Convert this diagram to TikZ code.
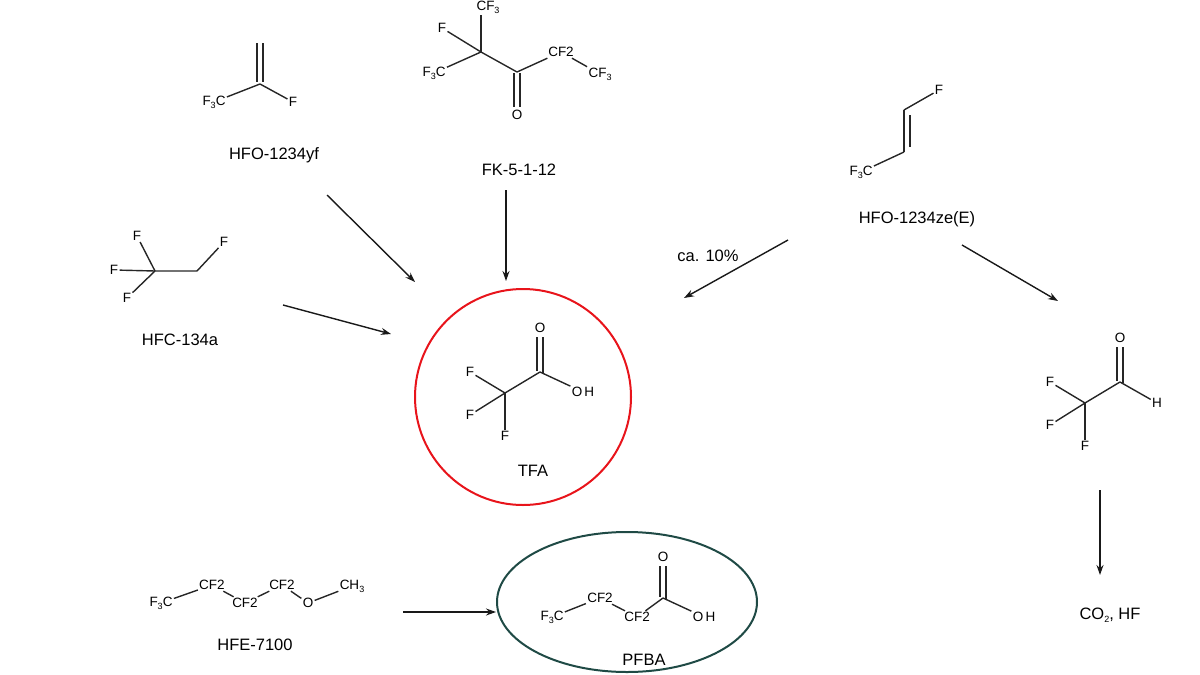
\documentclass[tikz,border=0pt]{standalone}
\usepackage{fontspec}
\setmainfont{Liberation Sans}
\usetikzlibrary{arrows.meta,shapes.geometric}
\newcommand\sbs[1]{\raisebox{-0.4ex}{\fontsize{9}{9}\selectfont #1}}
\newcommand\atomfont{\fontsize{13.5}{15}\selectfont}
\newcommand\labfont{\fontsize{16.5}{19}\selectfont}
\definecolor{tfared}{HTML}{E8141B}
\definecolor{pfbateal}{HTML}{1F4A45}
\begin{document}
\begin{tikzpicture}[x=1pt,y=-1pt,
  atom/.style={font=\atomfont, inner sep=1.2pt},
  lab/.style={font=\labfont, inner sep=1pt},
  bond/.style={line width=1.4pt, black!85},
  arr/.style={line width=1.4pt, black!90, -{Stealth[length=10pt,width=7pt]}}]
\useasboundingbox (0,0) rectangle (1200,675);

% ---------- HFO-1234yf ----------
\coordinate (yfc) at (260,84);
\node[atom] (yfcf3) at (214,102) {F\sbs{3}C};
\node[atom] (yff) at (293,102) {F};
\draw[bond] (257,43) -- (257,82);
\draw[bond] (263,43) -- (263,82);
\draw[bond] (yfc) -- (yfcf3);
\draw[bond] (yfc) -- (yff);
\node[lab] (yflab) at (274,155) {HFO-1234yf};

% ---------- FK-5-1-12 ----------
\coordinate (fkq) at (481,52);
\coordinate (fkk) at (517,72);
\node[atom] (fktop) at (488,7) {CF\sbs{3}};
\node[atom] (fkf) at (442,28) {F};
\node[atom] (fkcf3l) at (434,73) {F\sbs{3}C};
\node[atom] (fko) at (517,115) {O};
\node[atom] (fkcf2) at (561,52) {CF2};
\node[atom] (fkcf3r) at (600,74) {CF\sbs{3}};
\draw[bond] (fkq) -- (fkq |- fktop.south);
\draw[bond] (fkq) -- (fkf);
\draw[bond] (fkq) -- (fkcf3l);
\draw[bond] (fkq) -- (fkk);
\draw[bond] (514,73) -- (514,107);
\draw[bond] (520,73) -- (520,107);
\draw[bond] (fkk) -- (fkcf2);
\draw[bond] (fkcf2) -- (fkcf3r);
\node[lab] (fklab) at (519,170) {FK-5-1-12};

% ---------- HFO-1234ze(E) ----------
\coordinate (zet) at (904,110);
\coordinate (zeb) at (904,152);
\node[atom] (zef) at (939,90) {F};
\node[atom] (zecf3) at (861,172) {F\sbs{3}C};
\draw[bond] (zet) -- (zef);
\draw[bond] (zet) -- (zeb);
\draw[bond] (910,115) -- (910,147);
\draw[bond] (zeb) -- (zecf3);
\node[lab] (zelab) at (917,219) {HFO-1234ze(E)};

% ---------- HFC-134a ----------
\coordinate (hc1) at (155,271);
\coordinate (hc2) at (197,271);
\node[atom] (hft) at (137,236) {F};
\node[atom] (hfl) at (114,270) {F};
\node[atom] (hfb) at (127,298) {F};
\node[atom] (hfr) at (224,242) {F};
\draw[bond] (hc1) -- (hft);
\draw[bond] (hc1) -- (hfl);
\draw[bond] (hc1) -- (hfb);
\draw[bond] (hc1) -- (hc2) -- (hfr);
\node[lab] (hclab) at (180,340) {HFC-134a};

% ---------- TFA ----------
\node[draw=tfared, line width=2pt, circle, minimum size=216pt] (tfa) at (523,397) {};
\coordinate (tcc) at (540,372);
\coordinate (tcf) at (505,393);
\node[atom] (to) at (540,328) {O};
\node[atom] (toh) at (583,392) {O\,H};
\node[atom] (tf1) at (470,372) {F};
\node[atom] (tf2) at (470,415) {F};
\node[atom] (tf3) at (505,436) {F};
\draw[bond] (537,337) -- (537,371);
\draw[bond] (543,337) -- (543,373);
\draw[bond] (tcc) -- (toh);
\draw[bond] (tcc) -- (tcf);
\draw[bond] (tcf) -- (tf1);
\draw[bond] (tcf) -- (tf2);
\draw[bond] (tcf) -- (tf3);
\node[lab] (tfalab) at (533,471) {TFA};

% ---------- trifluoroacetaldehyde ----------
\coordinate (acc) at (1120,382);
\coordinate (acf) at (1085,403);
\node[atom] (ao) at (1120,338) {O};
\node[atom] (ah) at (1157,403) {H};
\node[atom] (af1) at (1050,382) {F};
\node[atom] (af2) at (1050,425) {F};
\node[atom] (af3) at (1085,446) {F};
\draw[bond] (1117,347) -- (1117,381);
\draw[bond] (1123,347) -- (1123,383);
\draw[bond] (acc) -- (ah);
\draw[bond] (acc) -- (acf);
\draw[bond] (acf) -- (af1);
\draw[bond] (acf) -- (af2);
\draw[bond] (acf) -- (af3);

\node[lab] (co2) at (1110,615) {CO\sbs{2}, HF};

% ---------- HFE-7100 ----------
\node[atom] (ecf3) at (161,603) {F\sbs{3}C};
\node[atom] (ecf2a) at (212,585) {CF2};
\node[atom] (ecf2b) at (245,603) {CF2};
\node[atom] (ecf2c) at (282,585) {CF2};
\node[atom] (eo) at (308,603) {O};
\node[atom] (ech3) at (352,586) {CH\sbs{3}};
\draw[bond] (ecf3) -- (ecf2a);
\draw[bond] (ecf2a) -- (ecf2b);
\draw[bond] (ecf2b) -- (ecf2c);
\draw[bond] (ecf2c) -- (eo);
\draw[bond] (eo) -- (ech3);
\node[lab] (hfelab) at (255,645) {HFE-7100};

% ---------- PFBA ----------
\node[draw=pfbateal, line width=2pt, ellipse, inner sep=0pt, minimum width=260pt, minimum height=140pt] (pfba) at (627,602) {};
\coordinate (pcc) at (663,598);
\node[atom] (pcf3) at (552,617) {F\sbs{3}C};
\node[atom] (pcf2a) at (600,598) {CF2};
\node[atom] (pcf2b) at (637,617) {CF2};
\node[atom] (po) at (663,557) {O};
\node[atom] (poh) at (704,617) {O\,H};
\draw[bond] (pcf3) -- (pcf2a);
\draw[bond] (pcf2a) -- (pcf2b);
\draw[bond] (pcf2b) -- (pcc);
\draw[bond] (pcc) -- (poh);
\draw[bond] (660,566) -- (660,597);
\draw[bond] (666,566) -- (666,599);
\node[lab] (pfbalab) at (644,660) {PFBA};

% ---------- arrows ----------
\coordinate (a1s) at (327,195); \coordinate (a1e) at (415,282);
\coordinate (a2s) at (506,190); \coordinate (a2e) at (506,281);
\coordinate (a3s) at (283,305); \coordinate (a3e) at (391,334);
\coordinate (a4s) at (788,240); \coordinate (a4e) at (684,298);
\coordinate (a5s) at (962,245); \coordinate (a5e) at (1058,301);
\coordinate (a6s) at (1100,490); \coordinate (a6e) at (1100,575);
\coordinate (a7s) at (403,612); \coordinate (a7e) at (496,612);
\draw[arr] (a1s) -- (a1e);
\draw[arr] (a2s) -- (a2e);
\draw[arr] (a3s) -- (a3e);
\draw[arr] (a4s) -- (a4e);
\draw[arr] (a5s) -- (a5e);
\draw[arr] (a6s) -- (a6e);
\draw[arr] (a7s) -- (a7e);
\node[lab] (ca) at (708,256) {ca. 10\%};
\end{tikzpicture}
\end{document}
